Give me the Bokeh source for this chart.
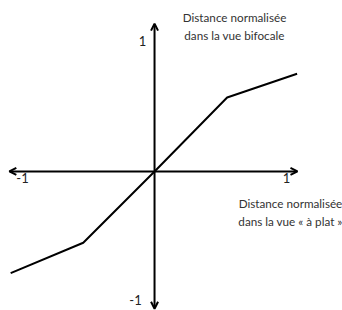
from bokeh.plotting import figure
from bokeh.models import Arrow, OpenHead, Range1d, ColumnDataSource
from bokeh.core.properties import value
from bokeh.embed import file_html
from bokeh.resources import INLINE

# data
x_vals = [-1.09, -0.54, 0.0, 0.55, 1.08]
y_vals = [-0.77, -0.54, 0.0, 0.56, 0.74]
x_tick_vals = [-1, 1]
x_tick_labels = ["-1", "1"]
y_tick_vals = [0.99, -0.977]
y_tick_labels = ["1", "-1"]
y_title = "Distance normalisée\ndans la vue bifocale"
x_title = "Distance normalisée\ndans la vue « à plat »"

FONT = value("Lato")

p = figure(width=342, height=310, x_range=Range1d(-1.167, 1.424),
           y_range=Range1d(-1.053, 1.295), output_backend="svg",
           toolbar_location=None, min_border=0)
p.axis.visible = False
p.grid.visible = False
p.outline_line_color = None
p.background_fill_color = "white"

# axes as double arrows
p.add_layout(Arrow(x_start=-1.10, y_start=0, x_end=1.083, y_end=0,
                   start=OpenHead(size=7, line_width=2, line_color="black"),
                   end=OpenHead(size=7, line_width=2, line_color="black"),
                   line_width=2, line_color="black"))
p.add_layout(Arrow(x_start=0, y_start=-1.04, x_end=0, y_end=1.12,
                   start=OpenHead(size=7, line_width=2, line_color="black"),
                   end=OpenHead(size=7, line_width=2, line_color="black"),
                   line_width=2, line_color="black"))

# curve
p.line(x_vals, y_vals, line_width=2, line_color="black")

# tick labels
xs = ColumnDataSource(dict(x=x_tick_vals, y=[0] * len(x_tick_vals), t=x_tick_labels))
p.text(x="x", y="y", text="t", source=xs, text_align="center", text_baseline="top",
       y_offset=2, text_font=FONT, text_font_size="13px", text_color="#222222")
ys = ColumnDataSource(dict(x=[0] * len(y_tick_vals), y=y_tick_vals, t=y_tick_labels,
                           xo=[-12, -19]))
p.text(x="x", y="y", text="t", source=ys, text_align="center", text_baseline="middle",
       x_offset="xo", text_font=FONT, text_font_size="13px", text_color="#222222")

# axis titles
p.text(x=[0.606], y=[1.22], text=[y_title], text_align="center", text_baseline="top",
       text_font=FONT, text_font_size="11.7px", text_line_height=1.28, text_color="#333333")
p.text(x=[1.03], y=[-0.185], text=[x_title], text_align="center", text_baseline="top",
       text_font=FONT, text_font_size="11.7px", text_line_height=1.28, text_color="#333333")

open("out.html", "w").write(file_html(p, INLINE))
